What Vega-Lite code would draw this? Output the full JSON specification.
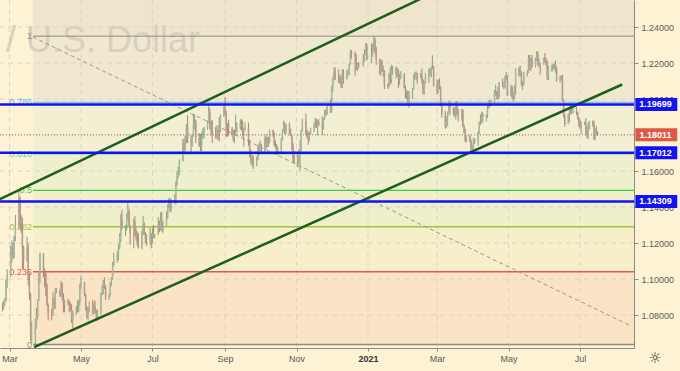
{
"$schema":"https://vega.github.io/schema/vega-lite/v6.json",
"width":634,"height":348,
"autosize":{"type":"none"},
"padding":{"left":0,"top":0,"right":46,"bottom":23},
"background":"#fdf2d3",
"config":{"view":{"stroke":null},"font":"Liberation Sans"},
"datasets":{
"bands":[
{"b":"b1","lo":1.2349,"hi":1.2815},
{"b":"b2","lo":1.19824,"hi":1.2349},
{"b":"b3","lo":1.16946,"hi":1.19824},
{"b":"b4","lo":1.14925,"hi":1.16946},
{"b":"b5","lo":1.12904,"hi":1.14925},
{"b":"b6","lo":1.10403,"hi":1.12904},
{"b":"b7","lo":1.0636,"hi":1.10403}],
"fib":[
{"lvl":"1","p":1.2349},
{"lvl":"0.786","p":1.19824},
{"lvl":"0.618","p":1.16946},
{"lvl":"0.5","p":1.14925},
{"lvl":"0.382","p":1.12904},
{"lvl":"0.236","p":1.10403},
{"lvl":"0","p":1.0636}],
"hgrid":[{"p":1.08},{"p":1.10},{"p":1.12},{"p":1.14},{"p":1.16},{"p":1.18},{"p":1.20},{"p":1.22},{"p":1.24}],
"vgrid":[{"d":"2020-03-01"},{"d":"2020-05-01"},{"d":"2020-07-01"},{"d":"2020-09-01"},{"d":"2020-11-01"},{"d":"2021-01-01"},{"d":"2021-03-01"},{"d":"2021-05-01"},{"d":"2021-07-01"}],
"diag":[{"d":"2020-03-21","p":1.2344},{"d":"2021-08-12","p":1.0744}],
"chan":[
{"ln":"up","d":"2020-02-13","p":1.14169},{"ln":"up","d":"2021-02-24","p":1.25847},
{"ln":"lo","d":"2020-03-22","p":1.06217},{"ln":"lo","d":"2021-08-06","p":1.20806}],
"levels":[{"p":1.19699},{"p":1.17012},{"p":1.14309}],
"last":[{"p":1.18011}],
"tags":[{"p":1.19699,"t":"1.19699","k":"b"},{"p":1.18011,"t":"1.18011","k":"r"},{"p":1.17012,"t":"1.17012","k":"b"},{"p":1.14309,"t":"1.14309","k":"b"}],
"wm":[{"t":"/ U.S. Dollar"}],
"gear":[{"t":"☼"}],
"ohlc":[
{"d":"2020-02-21","o":1.0780,"h":1.0865,"l":1.0780,"c":1.0845},
{"d":"2020-02-24","o":1.0845,"h":1.0870,"l":1.0820,"c":1.0850},
{"d":"2020-02-25","o":1.0850,"h":1.0880,"l":1.0830,"c":1.0880},
{"d":"2020-02-26","o":1.0880,"h":1.0895,"l":1.0850,"c":1.0880},
{"d":"2020-02-27","o":1.0880,"h":1.1000,"l":1.0875,"c":1.0995},
{"d":"2020-02-28","o":1.0995,"h":1.1055,"l":1.0950,"c":1.1025},
{"d":"2020-03-02","o":1.1025,"h":1.1185,"l":1.1010,"c":1.1135},
{"d":"2020-03-03","o":1.1135,"h":1.1215,"l":1.1090,"c":1.1175},
{"d":"2020-03-04","o":1.1175,"h":1.1200,"l":1.1110,"c":1.1135},
{"d":"2020-03-05","o":1.1135,"h":1.1240,"l":1.1115,"c":1.1240},
{"d":"2020-03-06","o":1.1240,"h":1.1355,"l":1.1210,"c":1.1285},
{"d":"2020-03-09","o":1.1285,"h":1.1496,"l":1.1280,"c":1.1450},
{"d":"2020-03-10","o":1.1450,"h":1.1460,"l":1.1285,"c":1.1285},
{"d":"2020-03-11","o":1.1285,"h":1.1355,"l":1.1255,"c":1.1265},
{"d":"2020-03-12","o":1.1265,"h":1.1340,"l":1.1055,"c":1.1175},
{"d":"2020-03-13","o":1.1175,"h":1.1185,"l":1.1055,"c":1.1105},
{"d":"2020-03-16","o":1.1105,"h":1.1235,"l":1.1095,"c":1.1175},
{"d":"2020-03-17","o":1.1175,"h":1.1195,"l":1.0965,"c":1.0995},
{"d":"2020-03-18","o":1.0995,"h":1.1035,"l":1.0885,"c":1.0915},
{"d":"2020-03-19","o":1.0915,"h":1.0925,"l":1.0655,"c":1.0690},
{"d":"2020-03-20","o":1.0690,"h":1.0765,"l":1.0640,"c":1.0695},
{"d":"2020-03-23","o":1.0695,"h":1.0780,"l":1.0636,"c":1.0725},
{"d":"2020-03-24","o":1.0725,"h":1.0840,"l":1.0725,"c":1.0790},
{"d":"2020-03-25","o":1.0790,"h":1.0885,"l":1.0775,"c":1.0880},
{"d":"2020-03-26","o":1.0880,"h":1.1035,"l":1.0880,"c":1.1030},
{"d":"2020-03-27","o":1.1030,"h":1.1147,"l":1.0975,"c":1.1140},
{"d":"2020-03-30","o":1.1140,"h":1.1145,"l":1.1010,"c":1.1040},
{"d":"2020-03-31","o":1.1040,"h":1.1060,"l":1.0955,"c":1.1030},
{"d":"2020-04-01","o":1.1030,"h":1.1035,"l":1.0905,"c":1.0965},
{"d":"2020-04-02","o":1.0965,"h":1.0975,"l":1.0850,"c":1.0855},
{"d":"2020-04-03","o":1.0855,"h":1.0865,"l":1.0770,"c":1.0810},
{"d":"2020-04-06","o":1.0810,"h":1.0835,"l":1.0770,"c":1.0795},
{"d":"2020-04-07","o":1.0795,"h":1.0925,"l":1.0795,"c":1.0895},
{"d":"2020-04-08","o":1.0895,"h":1.0895,"l":1.0830,"c":1.0860},
{"d":"2020-04-09","o":1.0860,"h":1.0950,"l":1.0835,"c":1.0935},
{"d":"2020-04-10","o":1.0935,"h":1.0950,"l":1.0920,"c":1.0935},
{"d":"2020-04-13","o":1.0935,"h":1.0945,"l":1.0900,"c":1.0915},
{"d":"2020-04-14","o":1.0915,"h":1.0990,"l":1.0905,"c":1.0975},
{"d":"2020-04-15","o":1.0975,"h":1.0980,"l":1.0880,"c":1.0900},
{"d":"2020-04-16","o":1.0900,"h":1.0920,"l":1.0815,"c":1.0865},
{"d":"2020-04-17","o":1.0865,"h":1.0885,"l":1.0815,"c":1.0875},
{"d":"2020-04-20","o":1.0875,"h":1.0890,"l":1.0855,"c":1.0865},
{"d":"2020-04-21","o":1.0865,"h":1.0880,"l":1.0815,"c":1.0855},
{"d":"2020-04-22","o":1.0855,"h":1.0870,"l":1.0825,"c":1.0825},
{"d":"2020-04-23","o":1.0825,"h":1.0860,"l":1.0755,"c":1.0775},
{"d":"2020-04-24","o":1.0775,"h":1.0825,"l":1.0727,"c":1.0820},
{"d":"2020-04-27","o":1.0820,"h":1.0850,"l":1.0800,"c":1.0825},
{"d":"2020-04-28","o":1.0825,"h":1.0880,"l":1.0815,"c":1.0825},
{"d":"2020-04-29","o":1.0825,"h":1.0885,"l":1.0815,"c":1.0875},
{"d":"2020-04-30","o":1.0875,"h":1.0975,"l":1.0850,"c":1.0955},
{"d":"2020-05-01","o":1.0955,"h":1.1019,"l":1.0945,"c":1.0980},
{"d":"2020-05-04","o":1.0980,"h":1.0985,"l":1.0905,"c":1.0910},
{"d":"2020-05-05","o":1.0910,"h":1.0920,"l":1.0825,"c":1.0840},
{"d":"2020-05-06","o":1.0840,"h":1.0850,"l":1.0780,"c":1.0795},
{"d":"2020-05-07","o":1.0795,"h":1.0845,"l":1.0770,"c":1.0835},
{"d":"2020-05-08","o":1.0835,"h":1.0875,"l":1.0815,"c":1.0840},
{"d":"2020-05-11","o":1.0840,"h":1.0885,"l":1.0805,"c":1.0810},
{"d":"2020-05-12","o":1.0810,"h":1.0870,"l":1.0805,"c":1.0850},
{"d":"2020-05-13","o":1.0850,"h":1.0880,"l":1.0810,"c":1.0815},
{"d":"2020-05-14","o":1.0815,"h":1.0830,"l":1.0775,"c":1.0805},
{"d":"2020-05-15","o":1.0805,"h":1.0830,"l":1.0765,"c":1.0820},
{"d":"2020-05-18","o":1.0820,"h":1.0925,"l":1.0805,"c":1.0915},
{"d":"2020-05-19","o":1.0915,"h":1.0965,"l":1.0910,"c":1.0925},
{"d":"2020-05-20","o":1.0925,"h":1.0995,"l":1.0915,"c":1.0975},
{"d":"2020-05-21","o":1.0975,"h":1.1010,"l":1.0945,"c":1.0950},
{"d":"2020-05-22","o":1.0950,"h":1.0965,"l":1.0885,"c":1.0900},
{"d":"2020-05-25","o":1.0900,"h":1.0920,"l":1.0885,"c":1.0900},
{"d":"2020-05-26","o":1.0900,"h":1.0985,"l":1.0900,"c":1.0980},
{"d":"2020-05-27","o":1.0980,"h":1.1010,"l":1.0960,"c":1.1005},
{"d":"2020-05-28","o":1.1005,"h":1.1095,"l":1.0995,"c":1.1080},
{"d":"2020-05-29","o":1.1080,"h":1.1147,"l":1.1070,"c":1.1100},
{"d":"2020-06-01","o":1.1100,"h":1.1155,"l":1.1090,"c":1.1135},
{"d":"2020-06-02","o":1.1135,"h":1.1195,"l":1.1105,"c":1.1170},
{"d":"2020-06-03","o":1.1170,"h":1.1255,"l":1.1165,"c":1.1235},
{"d":"2020-06-04","o":1.1235,"h":1.1360,"l":1.1205,"c":1.1335},
{"d":"2020-06-05","o":1.1335,"h":1.1385,"l":1.1275,"c":1.1290},
{"d":"2020-06-08","o":1.1290,"h":1.1300,"l":1.1240,"c":1.1295},
{"d":"2020-06-09","o":1.1295,"h":1.1365,"l":1.1270,"c":1.1340},
{"d":"2020-06-10","o":1.1340,"h":1.1422,"l":1.1325,"c":1.1375},
{"d":"2020-06-11","o":1.1375,"h":1.1390,"l":1.1295,"c":1.1300},
{"d":"2020-06-12","o":1.1300,"h":1.1300,"l":1.1190,"c":1.1255},
{"d":"2020-06-15","o":1.1255,"h":1.1335,"l":1.1170,"c":1.1320},
{"d":"2020-06-16","o":1.1320,"h":1.1350,"l":1.1235,"c":1.1265},
{"d":"2020-06-17","o":1.1265,"h":1.1285,"l":1.1215,"c":1.1245},
{"d":"2020-06-18","o":1.1245,"h":1.1265,"l":1.1185,"c":1.1205},
{"d":"2020-06-19","o":1.1205,"h":1.1255,"l":1.1170,"c":1.1175},
{"d":"2020-06-22","o":1.1175,"h":1.1270,"l":1.1165,"c":1.1260},
{"d":"2020-06-23","o":1.1260,"h":1.1350,"l":1.1245,"c":1.1305},
{"d":"2020-06-24","o":1.1305,"h":1.1315,"l":1.1245,"c":1.1250},
{"d":"2020-06-25","o":1.1250,"h":1.1260,"l":1.1200,"c":1.1220},
{"d":"2020-06-26","o":1.1220,"h":1.1250,"l":1.1185,"c":1.1220},
{"d":"2020-06-29","o":1.1220,"h":1.1285,"l":1.1190,"c":1.1245},
{"d":"2020-06-30","o":1.1245,"h":1.1255,"l":1.1170,"c":1.1235},
{"d":"2020-07-01","o":1.1235,"h":1.1285,"l":1.1200,"c":1.1250},
{"d":"2020-07-02","o":1.1250,"h":1.1300,"l":1.1230,"c":1.1240},
{"d":"2020-07-03","o":1.1240,"h":1.1250,"l":1.1225,"c":1.1245},
{"d":"2020-07-06","o":1.1245,"h":1.1345,"l":1.1245,"c":1.1310},
{"d":"2020-07-07","o":1.1310,"h":1.1325,"l":1.1260,"c":1.1275},
{"d":"2020-07-08","o":1.1275,"h":1.1370,"l":1.1270,"c":1.1330},
{"d":"2020-07-09","o":1.1330,"h":1.1375,"l":1.1265,"c":1.1285},
{"d":"2020-07-10","o":1.1285,"h":1.1320,"l":1.1255,"c":1.1300},
{"d":"2020-07-13","o":1.1300,"h":1.1375,"l":1.1295,"c":1.1340},
{"d":"2020-07-14","o":1.1340,"h":1.1415,"l":1.1335,"c":1.1400},
{"d":"2020-07-15","o":1.1400,"h":1.1450,"l":1.1395,"c":1.1410},
{"d":"2020-07-16","o":1.1410,"h":1.1450,"l":1.1370,"c":1.1385},
{"d":"2020-07-17","o":1.1385,"h":1.1445,"l":1.1375,"c":1.1430},
{"d":"2020-07-20","o":1.1430,"h":1.1470,"l":1.1420,"c":1.1445},
{"d":"2020-07-21","o":1.1445,"h":1.1545,"l":1.1415,"c":1.1525},
{"d":"2020-07-22","o":1.1525,"h":1.1600,"l":1.1520,"c":1.1570},
{"d":"2020-07-23","o":1.1570,"h":1.1625,"l":1.1560,"c":1.1595},
{"d":"2020-07-24","o":1.1595,"h":1.1665,"l":1.1580,"c":1.1655},
{"d":"2020-07-27","o":1.1655,"h":1.1780,"l":1.1655,"c":1.1755},
{"d":"2020-07-28","o":1.1755,"h":1.1775,"l":1.1690,"c":1.1715},
{"d":"2020-07-29","o":1.1715,"h":1.1800,"l":1.1715,"c":1.1790},
{"d":"2020-07-30","o":1.1790,"h":1.1860,"l":1.1755,"c":1.1845},
{"d":"2020-07-31","o":1.1845,"h":1.1910,"l":1.1755,"c":1.1775},
{"d":"2020-08-03","o":1.1775,"h":1.1795,"l":1.1695,"c":1.1760},
{"d":"2020-08-04","o":1.1760,"h":1.1805,"l":1.1735,"c":1.1800},
{"d":"2020-08-05","o":1.1800,"h":1.1915,"l":1.1790,"c":1.1855},
{"d":"2020-08-06","o":1.1855,"h":1.1915,"l":1.1830,"c":1.1875},
{"d":"2020-08-07","o":1.1875,"h":1.1885,"l":1.1755,"c":1.1785},
{"d":"2020-08-10","o":1.1785,"h":1.1810,"l":1.1735,"c":1.1735},
{"d":"2020-08-11","o":1.1735,"h":1.1805,"l":1.1710,"c":1.1740},
{"d":"2020-08-12","o":1.1740,"h":1.1815,"l":1.1710,"c":1.1785},
{"d":"2020-08-13","o":1.1785,"h":1.1835,"l":1.1780,"c":1.1815},
{"d":"2020-08-14","o":1.1815,"h":1.1845,"l":1.1780,"c":1.1840},
{"d":"2020-08-17","o":1.1840,"h":1.1880,"l":1.1830,"c":1.1870},
{"d":"2020-08-18","o":1.1870,"h":1.1965,"l":1.1865,"c":1.1930},
{"d":"2020-08-19","o":1.1930,"h":1.1950,"l":1.1830,"c":1.1835},
{"d":"2020-08-20","o":1.1835,"h":1.1880,"l":1.1805,"c":1.1860},
{"d":"2020-08-21","o":1.1860,"h":1.1885,"l":1.1755,"c":1.1795},
{"d":"2020-08-24","o":1.1795,"h":1.1845,"l":1.1780,"c":1.1790},
{"d":"2020-08-25","o":1.1790,"h":1.1845,"l":1.1780,"c":1.1835},
{"d":"2020-08-26","o":1.1835,"h":1.1835,"l":1.1770,"c":1.1830},
{"d":"2020-08-27","o":1.1830,"h":1.1900,"l":1.1765,"c":1.1820},
{"d":"2020-08-28","o":1.1820,"h":1.1915,"l":1.1815,"c":1.1905},
{"d":"2020-08-31","o":1.1905,"h":1.1965,"l":1.1900,"c":1.1935},
{"d":"2020-09-01","o":1.1935,"h":1.2011,"l":1.1910,"c":1.1915},
{"d":"2020-09-02","o":1.1915,"h":1.1935,"l":1.1790,"c":1.1855},
{"d":"2020-09-03","o":1.1855,"h":1.1865,"l":1.1790,"c":1.1850},
{"d":"2020-09-04","o":1.1850,"h":1.1885,"l":1.1800,"c":1.1835},
{"d":"2020-09-07","o":1.1835,"h":1.1845,"l":1.1800,"c":1.1815},
{"d":"2020-09-08","o":1.1815,"h":1.1830,"l":1.1765,"c":1.1780},
{"d":"2020-09-09","o":1.1780,"h":1.1830,"l":1.1755,"c":1.1800},
{"d":"2020-09-10","o":1.1800,"h":1.1915,"l":1.1795,"c":1.1815},
{"d":"2020-09-11","o":1.1815,"h":1.1870,"l":1.1815,"c":1.1845},
{"d":"2020-09-14","o":1.1845,"h":1.1885,"l":1.1830,"c":1.1860},
{"d":"2020-09-15","o":1.1860,"h":1.1890,"l":1.1825,"c":1.1845},
{"d":"2020-09-16","o":1.1845,"h":1.1880,"l":1.1790,"c":1.1815},
{"d":"2020-09-17","o":1.1815,"h":1.1840,"l":1.1735,"c":1.1835},
{"d":"2020-09-18","o":1.1835,"h":1.1870,"l":1.1825,"c":1.1840},
{"d":"2020-09-21","o":1.1840,"h":1.1870,"l":1.1740,"c":1.1770},
{"d":"2020-09-22","o":1.1770,"h":1.1775,"l":1.1675,"c":1.1700},
{"d":"2020-09-23","o":1.1700,"h":1.1720,"l":1.1640,"c":1.1660},
{"d":"2020-09-24","o":1.1660,"h":1.1690,"l":1.1625,"c":1.1675},
{"d":"2020-09-25","o":1.1675,"h":1.1685,"l":1.1612,"c":1.1630},
{"d":"2020-09-28","o":1.1630,"h":1.1680,"l":1.1625,"c":1.1665},
{"d":"2020-09-29","o":1.1665,"h":1.1745,"l":1.1660,"c":1.1745},
{"d":"2020-09-30","o":1.1745,"h":1.1755,"l":1.1685,"c":1.1720},
{"d":"2020-10-01","o":1.1720,"h":1.1770,"l":1.1710,"c":1.1745},
{"d":"2020-10-02","o":1.1745,"h":1.1750,"l":1.1695,"c":1.1715},
{"d":"2020-10-05","o":1.1715,"h":1.1795,"l":1.1705,"c":1.1780},
{"d":"2020-10-06","o":1.1780,"h":1.1805,"l":1.1725,"c":1.1735},
{"d":"2020-10-07","o":1.1735,"h":1.1790,"l":1.1730,"c":1.1765},
{"d":"2020-10-08","o":1.1765,"h":1.1790,"l":1.1735,"c":1.1760},
{"d":"2020-10-09","o":1.1760,"h":1.1830,"l":1.1755,"c":1.1825},
{"d":"2020-10-12","o":1.1825,"h":1.1830,"l":1.1790,"c":1.1810},
{"d":"2020-10-13","o":1.1810,"h":1.1815,"l":1.1735,"c":1.1745},
{"d":"2020-10-14","o":1.1745,"h":1.1770,"l":1.1725,"c":1.1745},
{"d":"2020-10-15","o":1.1745,"h":1.1750,"l":1.1690,"c":1.1705},
{"d":"2020-10-16","o":1.1705,"h":1.1735,"l":1.1690,"c":1.1720},
{"d":"2020-10-19","o":1.1720,"h":1.1785,"l":1.1705,"c":1.1770},
{"d":"2020-10-20","o":1.1770,"h":1.1830,"l":1.1770,"c":1.1820},
{"d":"2020-10-21","o":1.1820,"h":1.1880,"l":1.1820,"c":1.1860},
{"d":"2020-10-22","o":1.1860,"h":1.1870,"l":1.1805,"c":1.1815},
{"d":"2020-10-23","o":1.1815,"h":1.1860,"l":1.1805,"c":1.1860},
{"d":"2020-10-26","o":1.1860,"h":1.1870,"l":1.1805,"c":1.1810},
{"d":"2020-10-27","o":1.1810,"h":1.1835,"l":1.1795,"c":1.1795},
{"d":"2020-10-28","o":1.1795,"h":1.1800,"l":1.1715,"c":1.1745},
{"d":"2020-10-29","o":1.1745,"h":1.1755,"l":1.1650,"c":1.1675},
{"d":"2020-10-30","o":1.1675,"h":1.1710,"l":1.1640,"c":1.1645},
{"d":"2020-11-02","o":1.1645,"h":1.1690,"l":1.1620,"c":1.1640},
{"d":"2020-11-03","o":1.1640,"h":1.1720,"l":1.1640,"c":1.1715},
{"d":"2020-11-04","o":1.1715,"h":1.1770,"l":1.1603,"c":1.1720},
{"d":"2020-11-05","o":1.1720,"h":1.1830,"l":1.1710,"c":1.1825},
{"d":"2020-11-06","o":1.1825,"h":1.1890,"l":1.1820,"c":1.1875},
{"d":"2020-11-09","o":1.1875,"h":1.1920,"l":1.1800,"c":1.1815},
{"d":"2020-11-10","o":1.1815,"h":1.1830,"l":1.1780,"c":1.1810},
{"d":"2020-11-11","o":1.1810,"h":1.1820,"l":1.1745,"c":1.1775},
{"d":"2020-11-12","o":1.1775,"h":1.1815,"l":1.1765,"c":1.1805},
{"d":"2020-11-13","o":1.1805,"h":1.1840,"l":1.1800,"c":1.1835},
{"d":"2020-11-16","o":1.1835,"h":1.1870,"l":1.1815,"c":1.1855},
{"d":"2020-11-17","o":1.1855,"h":1.1895,"l":1.1840,"c":1.1860},
{"d":"2020-11-18","o":1.1860,"h":1.1890,"l":1.1840,"c":1.1850},
{"d":"2020-11-19","o":1.1850,"h":1.1880,"l":1.1800,"c":1.1870},
{"d":"2020-11-20","o":1.1870,"h":1.1890,"l":1.1850,"c":1.1860},
{"d":"2020-11-23","o":1.1860,"h":1.1905,"l":1.1800,"c":1.1840},
{"d":"2020-11-24","o":1.1840,"h":1.1895,"l":1.1830,"c":1.1890},
{"d":"2020-11-25","o":1.1890,"h":1.1940,"l":1.1885,"c":1.1915},
{"d":"2020-11-26","o":1.1915,"h":1.1940,"l":1.1905,"c":1.1915},
{"d":"2020-11-27","o":1.1915,"h":1.1965,"l":1.1910,"c":1.1960},
{"d":"2020-11-30","o":1.1960,"h":1.2000,"l":1.1925,"c":1.1925},
{"d":"2020-12-01","o":1.1925,"h":1.2075,"l":1.1925,"c":1.2070},
{"d":"2020-12-02","o":1.2070,"h":1.2120,"l":1.2040,"c":1.2115},
{"d":"2020-12-03","o":1.2115,"h":1.2175,"l":1.2105,"c":1.2145},
{"d":"2020-12-04","o":1.2145,"h":1.2175,"l":1.2105,"c":1.2120},
{"d":"2020-12-07","o":1.2120,"h":1.2165,"l":1.2090,"c":1.2110},
{"d":"2020-12-08","o":1.2110,"h":1.2135,"l":1.2085,"c":1.2100},
{"d":"2020-12-09","o":1.2100,"h":1.2125,"l":1.2060,"c":1.2080},
{"d":"2020-12-10","o":1.2080,"h":1.2165,"l":1.2060,"c":1.2135},
{"d":"2020-12-11","o":1.2135,"h":1.2165,"l":1.2085,"c":1.2110},
{"d":"2020-12-14","o":1.2110,"h":1.2160,"l":1.2110,"c":1.2150},
{"d":"2020-12-15","o":1.2150,"h":1.2165,"l":1.2125,"c":1.2150},
{"d":"2020-12-16","o":1.2150,"h":1.2200,"l":1.2135,"c":1.2195},
{"d":"2020-12-17","o":1.2195,"h":1.2275,"l":1.2190,"c":1.2260},
{"d":"2020-12-18","o":1.2260,"h":1.2270,"l":1.2225,"c":1.2255},
{"d":"2020-12-21","o":1.2255,"h":1.2265,"l":1.2130,"c":1.2235},
{"d":"2020-12-22","o":1.2235,"h":1.2250,"l":1.2160,"c":1.2165},
{"d":"2020-12-23","o":1.2165,"h":1.2200,"l":1.2155,"c":1.2195},
{"d":"2020-12-24","o":1.2195,"h":1.2205,"l":1.2170,"c":1.2185},
{"d":"2020-12-28","o":1.2185,"h":1.2250,"l":1.2180,"c":1.2215},
{"d":"2020-12-29","o":1.2215,"h":1.2275,"l":1.2205,"c":1.2250},
{"d":"2020-12-30","o":1.2250,"h":1.2310,"l":1.2245,"c":1.2295},
{"d":"2020-12-31","o":1.2295,"h":1.2310,"l":1.2215,"c":1.2215},
{"d":"2021-01-04","o":1.2215,"h":1.2310,"l":1.2200,"c":1.2250},
{"d":"2021-01-05","o":1.2250,"h":1.2305,"l":1.2235,"c":1.2295},
{"d":"2021-01-06","o":1.2295,"h":1.2349,"l":1.2265,"c":1.2325},
{"d":"2021-01-07","o":1.2325,"h":1.2340,"l":1.2250,"c":1.2270},
{"d":"2021-01-08","o":1.2270,"h":1.2290,"l":1.2190,"c":1.2220},
{"d":"2021-01-11","o":1.2220,"h":1.2225,"l":1.2135,"c":1.2150},
{"d":"2021-01-12","o":1.2150,"h":1.2215,"l":1.2130,"c":1.2205},
{"d":"2021-01-13","o":1.2205,"h":1.2220,"l":1.2150,"c":1.2155},
{"d":"2021-01-14","o":1.2155,"h":1.2185,"l":1.2125,"c":1.2155},
{"d":"2021-01-15","o":1.2155,"h":1.2160,"l":1.2055,"c":1.2080},
{"d":"2021-01-18","o":1.2080,"h":1.2085,"l":1.2055,"c":1.2075},
{"d":"2021-01-19","o":1.2075,"h":1.2145,"l":1.2065,"c":1.2130},
{"d":"2021-01-20","o":1.2130,"h":1.2175,"l":1.2080,"c":1.2105},
{"d":"2021-01-21","o":1.2105,"h":1.2190,"l":1.2090,"c":1.2165},
{"d":"2021-01-22","o":1.2165,"h":1.2185,"l":1.2135,"c":1.2170},
{"d":"2021-01-25","o":1.2170,"h":1.2180,"l":1.2115,"c":1.2140},
{"d":"2021-01-26","o":1.2140,"h":1.2175,"l":1.2125,"c":1.2160},
{"d":"2021-01-27","o":1.2160,"h":1.2165,"l":1.2060,"c":1.2110},
{"d":"2021-01-28","o":1.2110,"h":1.2140,"l":1.2080,"c":1.2125},
{"d":"2021-01-29","o":1.2125,"h":1.2155,"l":1.2110,"c":1.2135},
{"d":"2021-02-01","o":1.2135,"h":1.2145,"l":1.2060,"c":1.2060},
{"d":"2021-02-02","o":1.2060,"h":1.2075,"l":1.2005,"c":1.2035},
{"d":"2021-02-03","o":1.2035,"h":1.2050,"l":1.2000,"c":1.2040},
{"d":"2021-02-04","o":1.2040,"h":1.2045,"l":1.1960,"c":1.1965},
{"d":"2021-02-05","o":1.1965,"h":1.2045,"l":1.1952,"c":1.2045},
{"d":"2021-02-08","o":1.2045,"h":1.2060,"l":1.2000,"c":1.2050},
{"d":"2021-02-09","o":1.2050,"h":1.2135,"l":1.2050,"c":1.2120},
{"d":"2021-02-10","o":1.2120,"h":1.2150,"l":1.2110,"c":1.2120},
{"d":"2021-02-11","o":1.2120,"h":1.2155,"l":1.2105,"c":1.2130},
{"d":"2021-02-12","o":1.2130,"h":1.2145,"l":1.2085,"c":1.2120},
{"d":"2021-02-15","o":1.2120,"h":1.2145,"l":1.2115,"c":1.2130},
{"d":"2021-02-16","o":1.2130,"h":1.2170,"l":1.2085,"c":1.2105},
{"d":"2021-02-17","o":1.2105,"h":1.2110,"l":1.2025,"c":1.2040},
{"d":"2021-02-18","o":1.2040,"h":1.2095,"l":1.2025,"c":1.2090},
{"d":"2021-02-19","o":1.2090,"h":1.2145,"l":1.2085,"c":1.2120},
{"d":"2021-02-22","o":1.2120,"h":1.2170,"l":1.2090,"c":1.2155},
{"d":"2021-02-23","o":1.2155,"h":1.2170,"l":1.2130,"c":1.2150},
{"d":"2021-02-24","o":1.2150,"h":1.2180,"l":1.2120,"c":1.2170},
{"d":"2021-02-25","o":1.2170,"h":1.2243,"l":1.2165,"c":1.2175},
{"d":"2021-02-26","o":1.2175,"h":1.2185,"l":1.2070,"c":1.2075},
{"d":"2021-03-01","o":1.2075,"h":1.2110,"l":1.2025,"c":1.2045},
{"d":"2021-03-02","o":1.2045,"h":1.2105,"l":1.2035,"c":1.2090},
{"d":"2021-03-03","o":1.2090,"h":1.2115,"l":1.2055,"c":1.2065},
{"d":"2021-03-04","o":1.2065,"h":1.2070,"l":1.1960,"c":1.1970},
{"d":"2021-03-05","o":1.1970,"h":1.1985,"l":1.1895,"c":1.1915},
{"d":"2021-03-08","o":1.1915,"h":1.1935,"l":1.1835,"c":1.1845},
{"d":"2021-03-09","o":1.1845,"h":1.1905,"l":1.1840,"c":1.1900},
{"d":"2021-03-10","o":1.1900,"h":1.1930,"l":1.1850,"c":1.1925},
{"d":"2021-03-11","o":1.1925,"h":1.1990,"l":1.1920,"c":1.1985},
{"d":"2021-03-12","o":1.1985,"h":1.1990,"l":1.1910,"c":1.1950},
{"d":"2021-03-15","o":1.1950,"h":1.1955,"l":1.1910,"c":1.1930},
{"d":"2021-03-16","o":1.1930,"h":1.1950,"l":1.1900,"c":1.1905},
{"d":"2021-03-17","o":1.1905,"h":1.1985,"l":1.1885,"c":1.1975},
{"d":"2021-03-18","o":1.1975,"h":1.1990,"l":1.1915,"c":1.1915},
{"d":"2021-03-19","o":1.1915,"h":1.1945,"l":1.1875,"c":1.1905},
{"d":"2021-03-22","o":1.1905,"h":1.1945,"l":1.1880,"c":1.1935},
{"d":"2021-03-23","o":1.1935,"h":1.1945,"l":1.1845,"c":1.1850},
{"d":"2021-03-24","o":1.1850,"h":1.1860,"l":1.1810,"c":1.1815},
{"d":"2021-03-25","o":1.1815,"h":1.1835,"l":1.1760,"c":1.1775},
{"d":"2021-03-26","o":1.1775,"h":1.1800,"l":1.1760,"c":1.1795},
{"d":"2021-03-29","o":1.1795,"h":1.1800,"l":1.1760,"c":1.1765},
{"d":"2021-03-30","o":1.1765,"h":1.1775,"l":1.1705,"c":1.1720},
{"d":"2021-03-31","o":1.1720,"h":1.1745,"l":1.1704,"c":1.1730},
{"d":"2021-04-01","o":1.1730,"h":1.1785,"l":1.1720,"c":1.1780},
{"d":"2021-04-02","o":1.1780,"h":1.1780,"l":1.1750,"c":1.1760},
{"d":"2021-04-05","o":1.1760,"h":1.1820,"l":1.1740,"c":1.1815},
{"d":"2021-04-06","o":1.1815,"h":1.1875,"l":1.1805,"c":1.1870},
{"d":"2021-04-07","o":1.1870,"h":1.1915,"l":1.1855,"c":1.1870},
{"d":"2021-04-08","o":1.1870,"h":1.1930,"l":1.1865,"c":1.1915},
{"d":"2021-04-09","o":1.1915,"h":1.1925,"l":1.1870,"c":1.1900},
{"d":"2021-04-12","o":1.1900,"h":1.1915,"l":1.1875,"c":1.1910},
{"d":"2021-04-13","o":1.1910,"h":1.1965,"l":1.1895,"c":1.1950},
{"d":"2021-04-14","o":1.1950,"h":1.1990,"l":1.1945,"c":1.1980},
{"d":"2021-04-15","o":1.1980,"h":1.1995,"l":1.1955,"c":1.1965},
{"d":"2021-04-16","o":1.1965,"h":1.1995,"l":1.1960,"c":1.1985},
{"d":"2021-04-19","o":1.1985,"h":1.2050,"l":1.1970,"c":1.2035},
{"d":"2021-04-20","o":1.2035,"h":1.2080,"l":1.2015,"c":1.2035},
{"d":"2021-04-21","o":1.2035,"h":1.2045,"l":1.2000,"c":1.2030},
{"d":"2021-04-22","o":1.2030,"h":1.2070,"l":1.1995,"c":1.2015},
{"d":"2021-04-23","o":1.2015,"h":1.2095,"l":1.2005,"c":1.2095},
{"d":"2021-04-26","o":1.2095,"h":1.2115,"l":1.2065,"c":1.2080},
{"d":"2021-04-27","o":1.2080,"h":1.2095,"l":1.2055,"c":1.2090},
{"d":"2021-04-28","o":1.2090,"h":1.2130,"l":1.2060,"c":1.2125},
{"d":"2021-04-29","o":1.2125,"h":1.2150,"l":1.2105,"c":1.2125},
{"d":"2021-04-30","o":1.2125,"h":1.2135,"l":1.2015,"c":1.2020},
{"d":"2021-05-03","o":1.2020,"h":1.2080,"l":1.2015,"c":1.2065},
{"d":"2021-05-04","o":1.2065,"h":1.2075,"l":1.2000,"c":1.2015},
{"d":"2021-05-05","o":1.2015,"h":1.2035,"l":1.1985,"c":1.2005},
{"d":"2021-05-06","o":1.2005,"h":1.2075,"l":1.2000,"c":1.2065},
{"d":"2021-05-07","o":1.2065,"h":1.2170,"l":1.2025,"c":1.2165},
{"d":"2021-05-10","o":1.2165,"h":1.2180,"l":1.2125,"c":1.2135},
{"d":"2021-05-11","o":1.2135,"h":1.2185,"l":1.2125,"c":1.2150},
{"d":"2021-05-12","o":1.2150,"h":1.2155,"l":1.2070,"c":1.2075},
{"d":"2021-05-13","o":1.2075,"h":1.2100,"l":1.2050,"c":1.2080},
{"d":"2021-05-14","o":1.2080,"h":1.2150,"l":1.2075,"c":1.2140},
{"d":"2021-05-17","o":1.2140,"h":1.2160,"l":1.2125,"c":1.2150},
{"d":"2021-05-18","o":1.2150,"h":1.2245,"l":1.2145,"c":1.2225},
{"d":"2021-05-19","o":1.2225,"h":1.2245,"l":1.2160,"c":1.2175},
{"d":"2021-05-20","o":1.2175,"h":1.2230,"l":1.2155,"c":1.2225},
{"d":"2021-05-21","o":1.2225,"h":1.2245,"l":1.2170,"c":1.2180},
{"d":"2021-05-24","o":1.2180,"h":1.2230,"l":1.2175,"c":1.2215},
{"d":"2021-05-25","o":1.2215,"h":1.2266,"l":1.2210,"c":1.2250},
{"d":"2021-05-26","o":1.2250,"h":1.2265,"l":1.2185,"c":1.2195},
{"d":"2021-05-27","o":1.2195,"h":1.2225,"l":1.2175,"c":1.2195},
{"d":"2021-05-28","o":1.2195,"h":1.2200,"l":1.2135,"c":1.2190},
{"d":"2021-05-31","o":1.2190,"h":1.2230,"l":1.2190,"c":1.2225},
{"d":"2021-06-01","o":1.2225,"h":1.2255,"l":1.2200,"c":1.2215},
{"d":"2021-06-02","o":1.2215,"h":1.2230,"l":1.2185,"c":1.2210},
{"d":"2021-06-03","o":1.2210,"h":1.2215,"l":1.2105,"c":1.2125},
{"d":"2021-06-04","o":1.2125,"h":1.2185,"l":1.2105,"c":1.2165},
{"d":"2021-06-07","o":1.2165,"h":1.2190,"l":1.2150,"c":1.2190},
{"d":"2021-06-08","o":1.2190,"h":1.2195,"l":1.2160,"c":1.2170},
{"d":"2021-06-09","o":1.2170,"h":1.2200,"l":1.2165,"c":1.2175},
{"d":"2021-06-10","o":1.2175,"h":1.2215,"l":1.2145,"c":1.2175},
{"d":"2021-06-11","o":1.2175,"h":1.2180,"l":1.2095,"c":1.2105},
{"d":"2021-06-14","o":1.2105,"h":1.2130,"l":1.2090,"c":1.2120},
{"d":"2021-06-15","o":1.2120,"h":1.2130,"l":1.2105,"c":1.2125},
{"d":"2021-06-16","o":1.2125,"h":1.2135,"l":1.1990,"c":1.1995},
{"d":"2021-06-17","o":1.1995,"h":1.2000,"l":1.1895,"c":1.1905},
{"d":"2021-06-18","o":1.1905,"h":1.1920,"l":1.1845,"c":1.1860},
{"d":"2021-06-21","o":1.1860,"h":1.1920,"l":1.1860,"c":1.1915},
{"d":"2021-06-22","o":1.1915,"h":1.1940,"l":1.1870,"c":1.1940},
{"d":"2021-06-23","o":1.1940,"h":1.1970,"l":1.1915,"c":1.1925},
{"d":"2021-06-24","o":1.1925,"h":1.1955,"l":1.1915,"c":1.1930},
{"d":"2021-06-25","o":1.1930,"h":1.1975,"l":1.1920,"c":1.1935},
{"d":"2021-06-28","o":1.1935,"h":1.1955,"l":1.1910,"c":1.1925},
{"d":"2021-06-29","o":1.1925,"h":1.1930,"l":1.1885,"c":1.1895},
{"d":"2021-06-30","o":1.1895,"h":1.1900,"l":1.1845,"c":1.1860},
{"d":"2021-07-01","o":1.1860,"h":1.1885,"l":1.1835,"c":1.1845},
{"d":"2021-07-02","o":1.1845,"h":1.1875,"l":1.1805,"c":1.1865},
{"d":"2021-07-05","o":1.1865,"h":1.1875,"l":1.1855,"c":1.1865},
{"d":"2021-07-06","o":1.1865,"h":1.1895,"l":1.1805,"c":1.1825},
{"d":"2021-07-07","o":1.1825,"h":1.1845,"l":1.1780,"c":1.1790},
{"d":"2021-07-08","o":1.1790,"h":1.1870,"l":1.1780,"c":1.1845},
{"d":"2021-07-09","o":1.1845,"h":1.1880,"l":1.1830,"c":1.1875},
{"d":"2021-07-12","o":1.1875,"h":1.1880,"l":1.1845,"c":1.1860},
{"d":"2021-07-13","o":1.1860,"h":1.1880,"l":1.1775,"c":1.1775},
{"d":"2021-07-14","o":1.1775,"h":1.1835,"l":1.1770,"c":1.1835},
{"d":"2021-07-15","o":1.1835,"h":1.1850,"l":1.1800,"c":1.1810},
{"d":"2021-07-16","o":1.1810,"h":1.1820,"l":1.1795,"c":1.1801}
]},
"layer":[
{"data":{"name":"bands"},"mark":{"type":"rect","clip":true},
 "encoding":{
  "x":{"datum":{"year":2020,"month":3,"date":21,"utc":true},"type":"temporal",
   "scale":{"type":"utc","domain":[{"year":2020,"month":2,"date":21,"hours":21,"utc":true},{"year":2021,"month":8,"date":16,"hours":2,"utc":true}]},
   "axis":{"title":null,"values":[{"year":2020,"month":3,"date":1,"utc":true},{"year":2020,"month":5,"date":1,"utc":true},{"year":2020,"month":7,"date":1,"utc":true},{"year":2020,"month":9,"date":1,"utc":true},{"year":2020,"month":11,"date":1,"utc":true},{"year":2021,"month":1,"date":1,"utc":true},{"year":2021,"month":3,"date":1,"utc":true},{"year":2021,"month":5,"date":1,"utc":true},{"year":2021,"month":7,"date":1,"utc":true}],"labelExpr":"utcmonth(datum.value)==0 ? utcFormat(datum.value,'%Y') : utcFormat(datum.value,'%b')","labelFontWeight":{"condition":{"test":"utcmonth(datum.value)==0","value":"bold"},"value":"normal"},"labelColor":{"condition":{"test":"utcmonth(datum.value)==0","value":"#333333"},"value":"#5a5a5a"},"labelFontSize":9,"labelFont":"Liberation Sans","labelFlush":false,"labelPadding":3,"tickSize":3,"tickColor":"#8a8a8a","domainColor":"#8a8a8a","grid":false}},
  "x2":{"datum":{"year":2021,"month":9,"date":30,"utc":true}},
  "y":{"field":"lo","type":"quantitative","scale":{"domain":[1.0617,1.255],"nice":false,"zero":false},
   "axis":{"title":null,"orient":"right","values":[1.08,1.1,1.12,1.14,1.16,1.2,1.22,1.24],"format":".5f","labelFontSize":9,"labelFont":"Liberation Sans","labelColor":"#5a5a5a","labelPadding":3,"tickSize":4,"tickColor":"#8a8a8a","domainColor":"#8a8a8a","grid":false}},
  "y2":{"field":"hi"},
  "fill":{"field":"b","type":"nominal","scale":{"domain":["b1","b2","b3","b4","b5","b6","b7"],"range":["#efe4cc","#f1e9cf","#f2efd3","#eef0cd","#eff0cb","#f6efc9","#fbe3c5"]},"legend":null}}},
{"data":{"name":"wm"},"mark":{"type":"text","align":"left","baseline":"alphabetic","fontSize":36,"font":"Liberation Sans","color":"#d8cfbd"},
 "encoding":{
  "x":{"datum":{"year":2020,"month":2,"date":27,"utc":true},"type":"temporal"},
  "y":{"datum":1.2261,"type":"quantitative"},
  "text":{"field":"t"}}},
{"data":{"name":"hgrid"},"mark":{"type":"rule","color":"#d9d5cc","strokeDash":[5,4],"strokeWidth":1},
 "encoding":{"y":{"field":"p","type":"quantitative"}}},
{"data":{"name":"vgrid"},"mark":{"type":"rule","color":"#d9d5cc","strokeDash":[5,4],"strokeWidth":1},
 "encoding":{"x":{"field":"d","type":"temporal"}}},
{"data":{"name":"fib"},"mark":{"type":"rule","clip":true},
 "encoding":{
  "x":{"datum":{"year":2020,"month":3,"date":21,"utc":true},"type":"temporal"},
  "x2":{"datum":{"year":2021,"month":9,"date":30,"utc":true}},
  "y":{"field":"p","type":"quantitative"},
  "color":{"field":"lvl","type":"nominal","scale":{"domain":["1","0.786","0.618","0.5","0.382","0.236","0"],"range":["#8c8c8c","#5fb6e4","#5fd69a","#44c844","#a2c43c","#e05a4c","#8c8c8c"]},"legend":null},
  "strokeWidth":{"field":"lvl","type":"nominal","scale":{"domain":["1","0.786","0.618","0.5","0.382","0.236","0"],"range":[1,1.5,3,1,2,2,1]},"legend":null}}},
{"data":{"name":"fib"},"mark":{"type":"text","align":"right","baseline":"middle","dx":-1,"fontSize":9},
 "encoding":{
  "x":{"datum":{"year":2020,"month":3,"date":21,"utc":true},"type":"temporal"},
  "y":{"field":"p","type":"quantitative"},
  "text":{"field":"lvl"},
  "color":{"field":"lvl","type":"nominal","legend":null}}},
{"data":{"name":"diag"},"mark":{"type":"line","color":"#9b978f","strokeDash":[4,3],"strokeWidth":1,"clip":true},
 "encoding":{
  "x":{"field":"d","type":"temporal"},
  "y":{"field":"p","type":"quantitative"}}},
{"data":{"name":"last"},"mark":{"type":"rule","color":"#c8604a","strokeDash":[1,2],"strokeWidth":1},
 "encoding":{"y":{"field":"p","type":"quantitative"}}},
{"data":{"name":"ohlc"},"mark":{"type":"rule","strokeWidth":0.8,"clip":true},
 "encoding":{
  "x":{"field":"d","type":"temporal"},
  "y":{"field":"l","type":"quantitative"},
  "y2":{"field":"h"},
  "color":{"condition":{"test":"datum.c >= datum.o","value":"#6a8f68"},"value":"#9a6a5e"}}},
{"data":{"name":"ohlc"},"mark":{"type":"rule","strokeWidth":1.5,"clip":true},
 "encoding":{
  "x":{"field":"d","type":"temporal"},
  "y":{"field":"o","type":"quantitative"},
  "y2":{"field":"c"},
  "color":{"condition":{"test":"datum.c >= datum.o","value":"#a8b6a2"},"value":"#b59a90"}}},
{"data":{"name":"chan"},"mark":{"type":"line","color":"#1c5f1c","strokeWidth":2.5,"clip":true},
 "encoding":{
  "x":{"field":"d","type":"temporal"},
  "y":{"field":"p","type":"quantitative"},
  "detail":{"field":"ln"}}},
{"data":{"name":"levels"},"mark":{"type":"rule","color":"#1212f2","strokeWidth":2.5},
 "encoding":{"y":{"field":"p","type":"quantitative"}}},
{"data":{"name":"tags"},"mark":{"type":"rule","strokeWidth":13,"strokeCap":"butt"},
 "encoding":{
  "x":{"datum":{"year":2021,"month":8,"date":17,"hours":6,"utc":true},"type":"temporal"},
  "x2":{"datum":{"year":2021,"month":9,"date":22,"utc":true}},
  "y":{"field":"p","type":"quantitative"},
  "stroke":{"field":"k","type":"nominal","scale":{"domain":["b","r"],"range":["#1212f2","#dc5a45"]},"legend":null}}},
{"data":{"name":"tags"},"mark":{"type":"text","align":"center","baseline":"middle","fontSize":9,"fontWeight":"bold","color":"#ffffff"},
 "encoding":{
  "x":{"datum":{"year":2021,"month":9,"date":3,"hours":12,"utc":true},"type":"temporal"},
  "y":{"field":"p","type":"quantitative"},
  "text":{"field":"t"}}},
{"data":{"name":"gear"},"mark":{"type":"text","align":"center","baseline":"middle","fontSize":15,"font":"DejaVu Sans","color":"#333333"},
 "encoding":{
  "x":{"datum":{"year":2021,"month":9,"date":3,"utc":true},"type":"temporal"},
  "y":{"datum":1.0561,"type":"quantitative"},
  "text":{"field":"t"}}}
]
}
